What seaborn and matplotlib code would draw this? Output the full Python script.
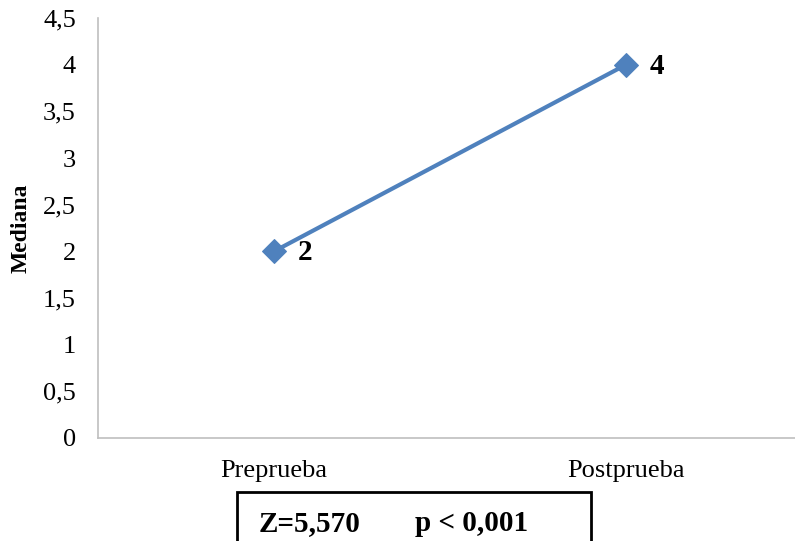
import matplotlib
matplotlib.use('Agg')
import matplotlib.pyplot as plt
import pandas as pd
import seaborn as sns
from matplotlib.patches import Rectangle

# datos
grupos = ['Preprueba', 'Postprueba']
medianas = [2, 4]
y_ticks = [0, 0.5, 1, 1.5, 2, 2.5, 3, 3.5, 4, 4.5]
y_tick_labels = ['0', '0,5', '1', '1,5', '2', '2,5', '3', '3,5', '4', '4,5']
texto_z = 'Z=5,570'
texto_p = 'p < 0,001'

df = pd.DataFrame({'Grupo': grupos, 'Mediana': medianas})

sns.set_style('white')
plt.rcParams['font.family'] = ['Liberation Serif', 'DejaVu Serif']
plt.rcParams['text.color'] = 'black'
plt.rcParams['axes.labelcolor'] = 'black'
plt.rcParams['xtick.color'] = 'black'
plt.rcParams['ytick.color'] = 'black'

fig = plt.figure(figsize=(7.95, 5.41), dpi=100)
ax = fig.add_axes([0.1233, 0.1904, 0.8767, 0.7763])

sns.lineplot(x='Grupo', y='Mediana', data=df, ax=ax, color='#4F81BD',
             linewidth=3, marker='D', markersize=12, markeredgecolor='#4F81BD')

for i, v in enumerate(medianas):
    ax.annotate(str(v), (i, v), xytext=(17, -1), textcoords='offset points',
                fontsize=21, fontweight='bold', va='center', ha='left', color='black')

ax.set_xlim(-0.5, 1.48)
ax.set_ylim(0, 4.5)
ax.set_yticks(y_ticks)
ax.set_yticklabels(y_tick_labels)
ax.set_xticks(range(len(grupos)))
ax.set_xticklabels(grupos)
ax.tick_params(axis='both', labelsize=19, length=0, labelcolor='black')
ax.tick_params(axis='y', pad=16)
ax.tick_params(axis='x', pad=16)
ax.set_xlabel('')
ax.set_ylabel('Mediana', fontsize=17, fontweight='bold', labelpad=8, color='black')

for s in ['top', 'right']:
    ax.spines[s].set_visible(False)
for s in ['left', 'bottom']:
    ax.spines[s].set_color('#BFBFBF')
    ax.spines[s].set_linewidth(1.2)

# recuadro del estadístico
fig.patches.append(Rectangle((0.298, -0.02), 0.445, 0.111, transform=fig.transFigure,
                             fill=False, edgecolor='black', linewidth=2))
fig.text(0.325, 0.033, texto_z, fontsize=21, fontweight='bold', va='center', color='black')
fig.text(0.522, 0.033, texto_p, fontsize=21, fontweight='bold', va='center', color='black')

plt.savefig('out.png', dpi=100)
